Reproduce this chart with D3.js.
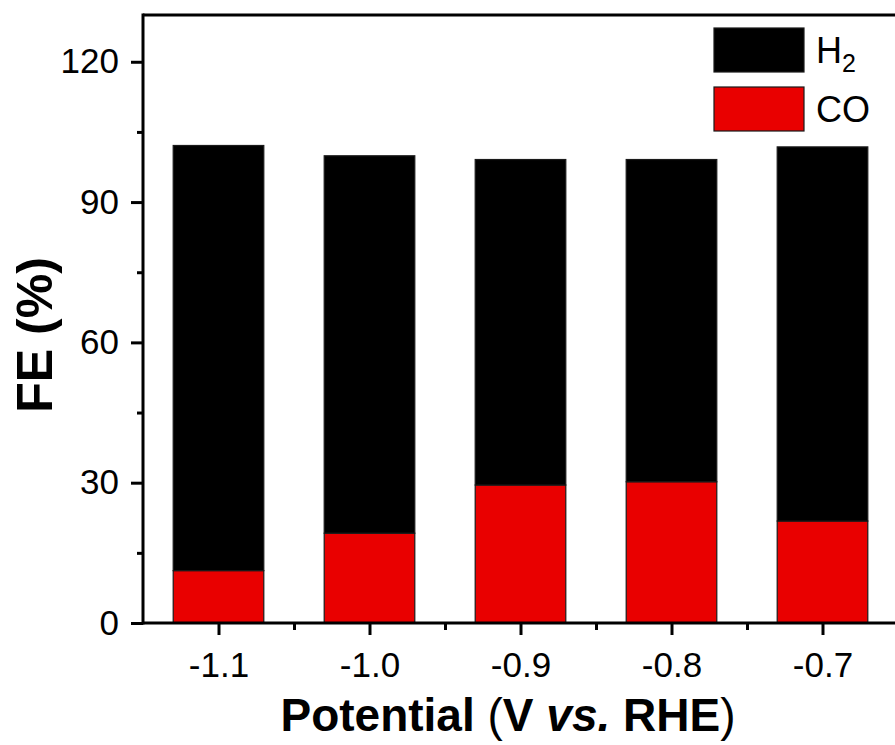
<!DOCTYPE html>
<html>
<head>
<meta charset="utf-8">
<script src="https://cdn.jsdelivr.net/npm/d3@7/dist/d3.min.js"></script>
<style>
  html, body { margin: 0; padding: 0; background: #fff; }
  svg { display: block; font-family: "Liberation Sans", Arial, sans-serif; }
</style>
</head>
<body>
<svg id="chart" width="895" height="745"></svg>
<script>
// Faradaic efficiency of CO and H2 at each applied potential
const potentials = [-1.1, -1.0, -0.9, -0.8, -0.7];
const potentialLabels = ["-1.1", "-1.0", "-0.9", "-0.8", "-0.7"];
const feCO = [11.2, 19.2, 29.5, 30.2, 21.8];
const feH2 = [90.9, 80.7, 69.6, 68.9, 80.0];
const yTicks = [0, 30, 60, 90, 120];
const yMinorTicks = [15, 45, 75, 105];
const xMinorTicks = [-1.05, -0.95, -0.85, -0.75];
const seriesKeys = ["CO", "H2"];
const seriesNames = { H2: "H", CO: "CO" };
const seriesColors = { CO: "#e90000", H2: "#000000" };

const svg = d3.select("#chart");
const plotLeft = 143, plotRight = 898, plotTop = 15, plotBottom = 623;

const x = d3.scaleLinear().domain([-1.15, -0.65]).range([plotLeft, plotRight]);
const y = d3.scaleLinear().domain([0, 130]).range([plotBottom, plotTop]);
const barHalf = 0.03;

const rows = potentials.map((p, i) => ({ p, CO: feCO[i], H2: feH2[i] }));
const stacked = d3.stack().keys(seriesKeys)(rows);

// stacked bars
const g = svg.append("g");
stacked.forEach(layer => {
  g.append("g")
    .selectAll("rect")
    .data(layer)
    .join("rect")
    .attr("x", d => x(d.data.p - barHalf))
    .attr("width", d => x(d.data.p + barHalf) - x(d.data.p - barHalf))
    .attr("y", d => y(d[1]))
    .attr("height", d => y(d[0]) - y(d[1]))
    .attr("fill", seriesColors[layer.key])
    .attr("stroke", "#1a1a1a")
    .attr("stroke-width", 1.2);
});

// axes
const tickFont = "35px";
const yAxis = svg.append("g").attr("transform", `translate(${plotLeft},0)`)
  .call(d3.axisLeft(y).tickValues(yTicks).tickFormat(d3.format("d")).tickSize(12).tickPadding(12));
const yMinor = svg.append("g").attr("transform", `translate(${plotLeft},0)`)
  .call(d3.axisLeft(y).tickValues(yMinorTicks).tickFormat("").tickSize(6));

const xAxis = svg.append("g").attr("transform", `translate(0,${plotBottom})`)
  .call(d3.axisBottom(x).tickValues(potentials).tickFormat((d, i) => potentialLabels[i]).tickSize(12).tickPadding(14));
const xMinor = svg.append("g").attr("transform", `translate(0,${plotBottom})`)
  .call(d3.axisBottom(x).tickValues(xMinorTicks).tickFormat("").tickSize(7));

[yAxis, yMinor, xAxis, xMinor].forEach(a => {
  a.select(".domain").remove();
  a.selectAll(".tick line").attr("stroke", "#000").attr("stroke-width", 3);
  a.selectAll(".tick text").attr("fill", "#000").style("font-size", tickFont);
});
xAxis.selectAll(".tick text").attr("dy", "0.8em");

// frame lines
svg.append("line").attr("x1", plotLeft).attr("x2", plotRight).attr("y1", plotBottom).attr("y2", plotBottom)
  .attr("stroke", "#000").attr("stroke-width", 3);
svg.append("line").attr("x1", plotLeft).attr("x2", plotLeft).attr("y1", plotTop - 1.5).attr("y2", plotBottom + 1.5)
  .attr("stroke", "#000").attr("stroke-width", 3);
svg.append("line").attr("x1", plotLeft).attr("x2", plotRight).attr("y1", plotTop).attr("y2", plotTop)
  .attr("stroke", "#000").attr("stroke-width", 3);
svg.append("line").attr("x1", plotRight).attr("x2", plotRight).attr("y1", plotTop).attr("y2", plotBottom)
  .attr("stroke", "#000").attr("stroke-width", 3);

// axis titles
const xt = svg.append("text")
  .attr("x", 508).attr("y", 731)
  .attr("text-anchor", "middle")
  .style("font-size", "46px").style("font-weight", "bold").attr("fill", "#000");
xt.append("tspan").text("Potential ");
xt.append("tspan").style("font-weight", "normal").text("(");
xt.append("tspan").text("V ");
xt.append("tspan").style("font-style", "italic").text("vs.");
xt.append("tspan").text(" RHE");
xt.append("tspan").style("font-weight", "normal").text(")");

svg.append("text")
  .attr("transform", "translate(52,335) rotate(-90)")
  .attr("text-anchor", "middle")
  .style("font-size", "50px").style("font-weight", "bold").attr("fill", "#000")
  .text("FE (%)");

// legend
const legendKeys = ["H2", "CO"];
const legend = svg.append("g");
legendKeys.forEach((k, i) => {
  const ly = 28 + i * 59;
  legend.append("rect")
    .attr("x", 714).attr("y", ly).attr("width", 90).attr("height", 44)
    .attr("fill", seriesColors[k]).attr("stroke", "#1a1a1a").attr("stroke-width", 1.2);
  const t = legend.append("text")
    .attr("x", 816).attr("y", ly + 35)
    .style("font-size", "36px").attr("fill", "#000");
  t.append("tspan").text(seriesNames[k]);
  if (k === "H2") {
    t.append("tspan").attr("dy", 9).style("font-size", "25px").text("2");
  }
});
</script>
</body>
</html>
